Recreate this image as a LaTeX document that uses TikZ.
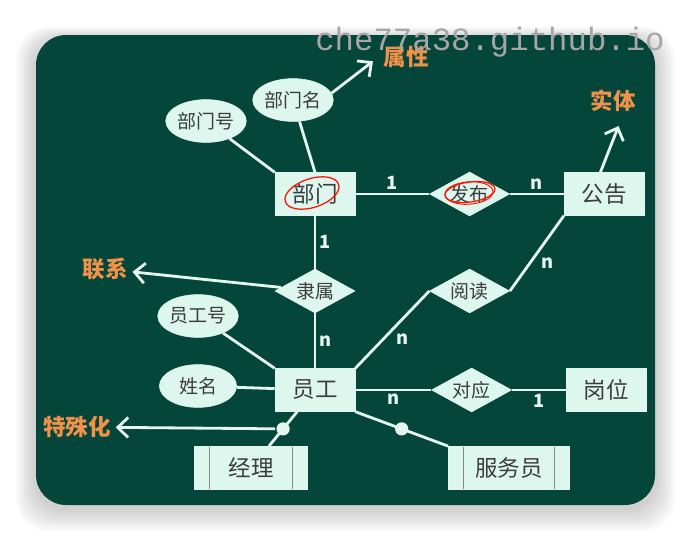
\documentclass[tikz,border=0pt]{standalone}
\usepackage{fontspec}
\setmainfont{Noto Sans CJK SC}
\newfontfamily\wmfont{Liberation Mono}
\usetikzlibrary{positioning, shapes.geometric, arrows.meta}
\definecolor{board}{HTML}{05463A}
\definecolor{erfill}{HTML}{DDF7EE}
\definecolor{erline}{HTML}{E4F6EF}
\definecolor{ertext}{HTML}{3C3C3C}
\definecolor{erorange}{HTML}{F2924A}
\definecolor{wmgray}{HTML}{A6A6A6}

\begin{document}
\begin{tikzpicture}[x=0.025cm, y=-0.025cm,
    ent/.style={fill=erfill, draw=erline, text=ertext, font=\fontsize{16}{18}\selectfont, minimum width=2cm, minimum height=1.07cm, inner sep=0pt},
    sub/.style={ent, minimum height=1.08cm, path picture={
        \draw[ertext!60, line width=0.6pt] ([xshift=0.37cm]path picture bounding box.north west) -- ([xshift=0.37cm]path picture bounding box.south west)
          ([xshift=-0.37cm]path picture bounding box.north east) -- ([xshift=-0.37cm]path picture bounding box.south east);}},
    attr/.style={ellipse, fill=erfill, draw=erline, text=ertext, font=\fontsize{13.5}{16}\selectfont, minimum width=1.93cm, minimum height=1.07cm, inner sep=0pt},
    rel/.style={diamond, aspect=1.8, fill=erfill, draw=erline, text=ertext, font=\fontsize{13.5}{16}\selectfont, minimum width=2cm, minimum height=1.1cm, inner sep=0pt},
    ln/.style={draw=erline, line width=2pt},
    arr/.style={ln, -{Straight Barb[length=2.6mm, width=5mm]}},
    card/.style={text=erline, font=\bfseries\fontsize{13}{15}\selectfont, inner sep=2pt},
    lbl/.style={text=erorange, font=\bfseries\fontsize{16}{18}\selectfont},
    dot/.style={circle, fill=erline, minimum size=0.33cm, inner sep=0pt}]
  \useasboundingbox (0,0) rectangle (692,542);
  % board with soft shadow
  \foreach \s in {1,...,10}
    \fill[black, opacity=0.018, rounded corners=0.8cm] (36-2*\s,35-1.2*\s+4) rectangle (655+2*\s,505+2.2*\s+4);
  \fill[board, rounded corners=0.75cm] (36,35) rectangle (655,505);

  % entities and relationships
  \node[ent] (bm) at (315,194) {部门};
  \node[rel, right=1.85cm of bm] (fb) {发布};
  \node[ent, right=1.35cm of fb] (gg) {公告};
  \node[rel, below=1.325cm of bm] (ls) {隶属};
  \node[ent, below=1.375cm of ls] (yg) {员工};
  \node[rel, right=1.85cm of ls] (yd) {阅读};
  \node[rel, right=1.9cm of yg] (dy) {对应};
  \node[ent, right=1.35cm of dy] (gw) {岗位};
  \node[sub, minimum width=2.83cm] (jl) at (251,468) {经理};
  \node[sub, minimum width=3.03cm] (fwy) at (509,468) {服务员};

  % attributes
  \node[attr] (bmh) at (206,121) {部门号};
  \node[attr] (bmm) at (293,100) {部门名};
  \node[attr] (ygh) at (198,316) {员工号};
  \node[attr] (xm) at (198,386) {姓名};

  % orange notes
  \node[lbl] (sx) at (406,57) {属性};
  \node[lbl] (st) at (613,101) {实体};
  \node[lbl] (lx) at (105,269) {联系};
  \node[lbl] (tsh) at (77,427) {特殊化};

  % connectors
  \draw[ln] (bmh) -- (bm.north west);
  \draw[ln] (bmm) -- (bm.north);
  \draw[ln] (ygh) -- (yg.north west);
  \draw[ln] (xm) -- (yg);
  \draw[ln] (bm) -- node[card, above] {1} (fb);
  \draw[ln] (fb) -- node[card, above] {n} (gg);
  \draw[ln] (bm) -- node[card, right] {1} (ls);
  \draw[ln] (ls) -- node[card, right] {n} (yg);
  \draw[ln] (yg.north east) -- node[card, below right] {n} (yd.west);
  \draw[ln] (yd.east) -- node[card, below right] {n} (gg.south west);
  \draw[ln] (yg) -- node[card, below] {n} (dy);
  \draw[ln] (dy) -- node[card, below] {1} (gw);
  \draw[ln] (yg) -- node[dot, pos=0.5] (d1) {} (jl);
  \draw[ln] (yg.south east) -- node[dot, pos=0.5] (d2) {} (fwy.north west);

  % arrows to the notes
  \draw[arr, shorten >=5pt] (bmm.10) -- (sx.west);
  \draw[arr, shorten >=7pt] (gg.100) -- (st.-60);
  \draw[arr] (ls) -- (lx);
  \draw[arr] (d1) -- (tsh);

  % red marks
  \draw[red!85!orange, line width=0.9pt, rotate around={18:(312,193)}] (312,193) ellipse [x radius=0.7cm, y radius=0.36cm];
  \draw[red!85!orange, line width=0.9pt, rotate around={8:(470,192)}] (470,192) ellipse [x radius=0.63cm, y radius=0.25cm];
  \draw[red!85!orange, line width=0.7pt, rotate around={4:(469,193)}] (469,193) ellipse [x radius=0.6cm, y radius=0.28cm];

  \node[text=wmgray, font=\wmfont\fontsize{23}{26}\selectfont] (wm) at (490,42) {che77a38.github.io};
\end{tikzpicture}
\end{document}
